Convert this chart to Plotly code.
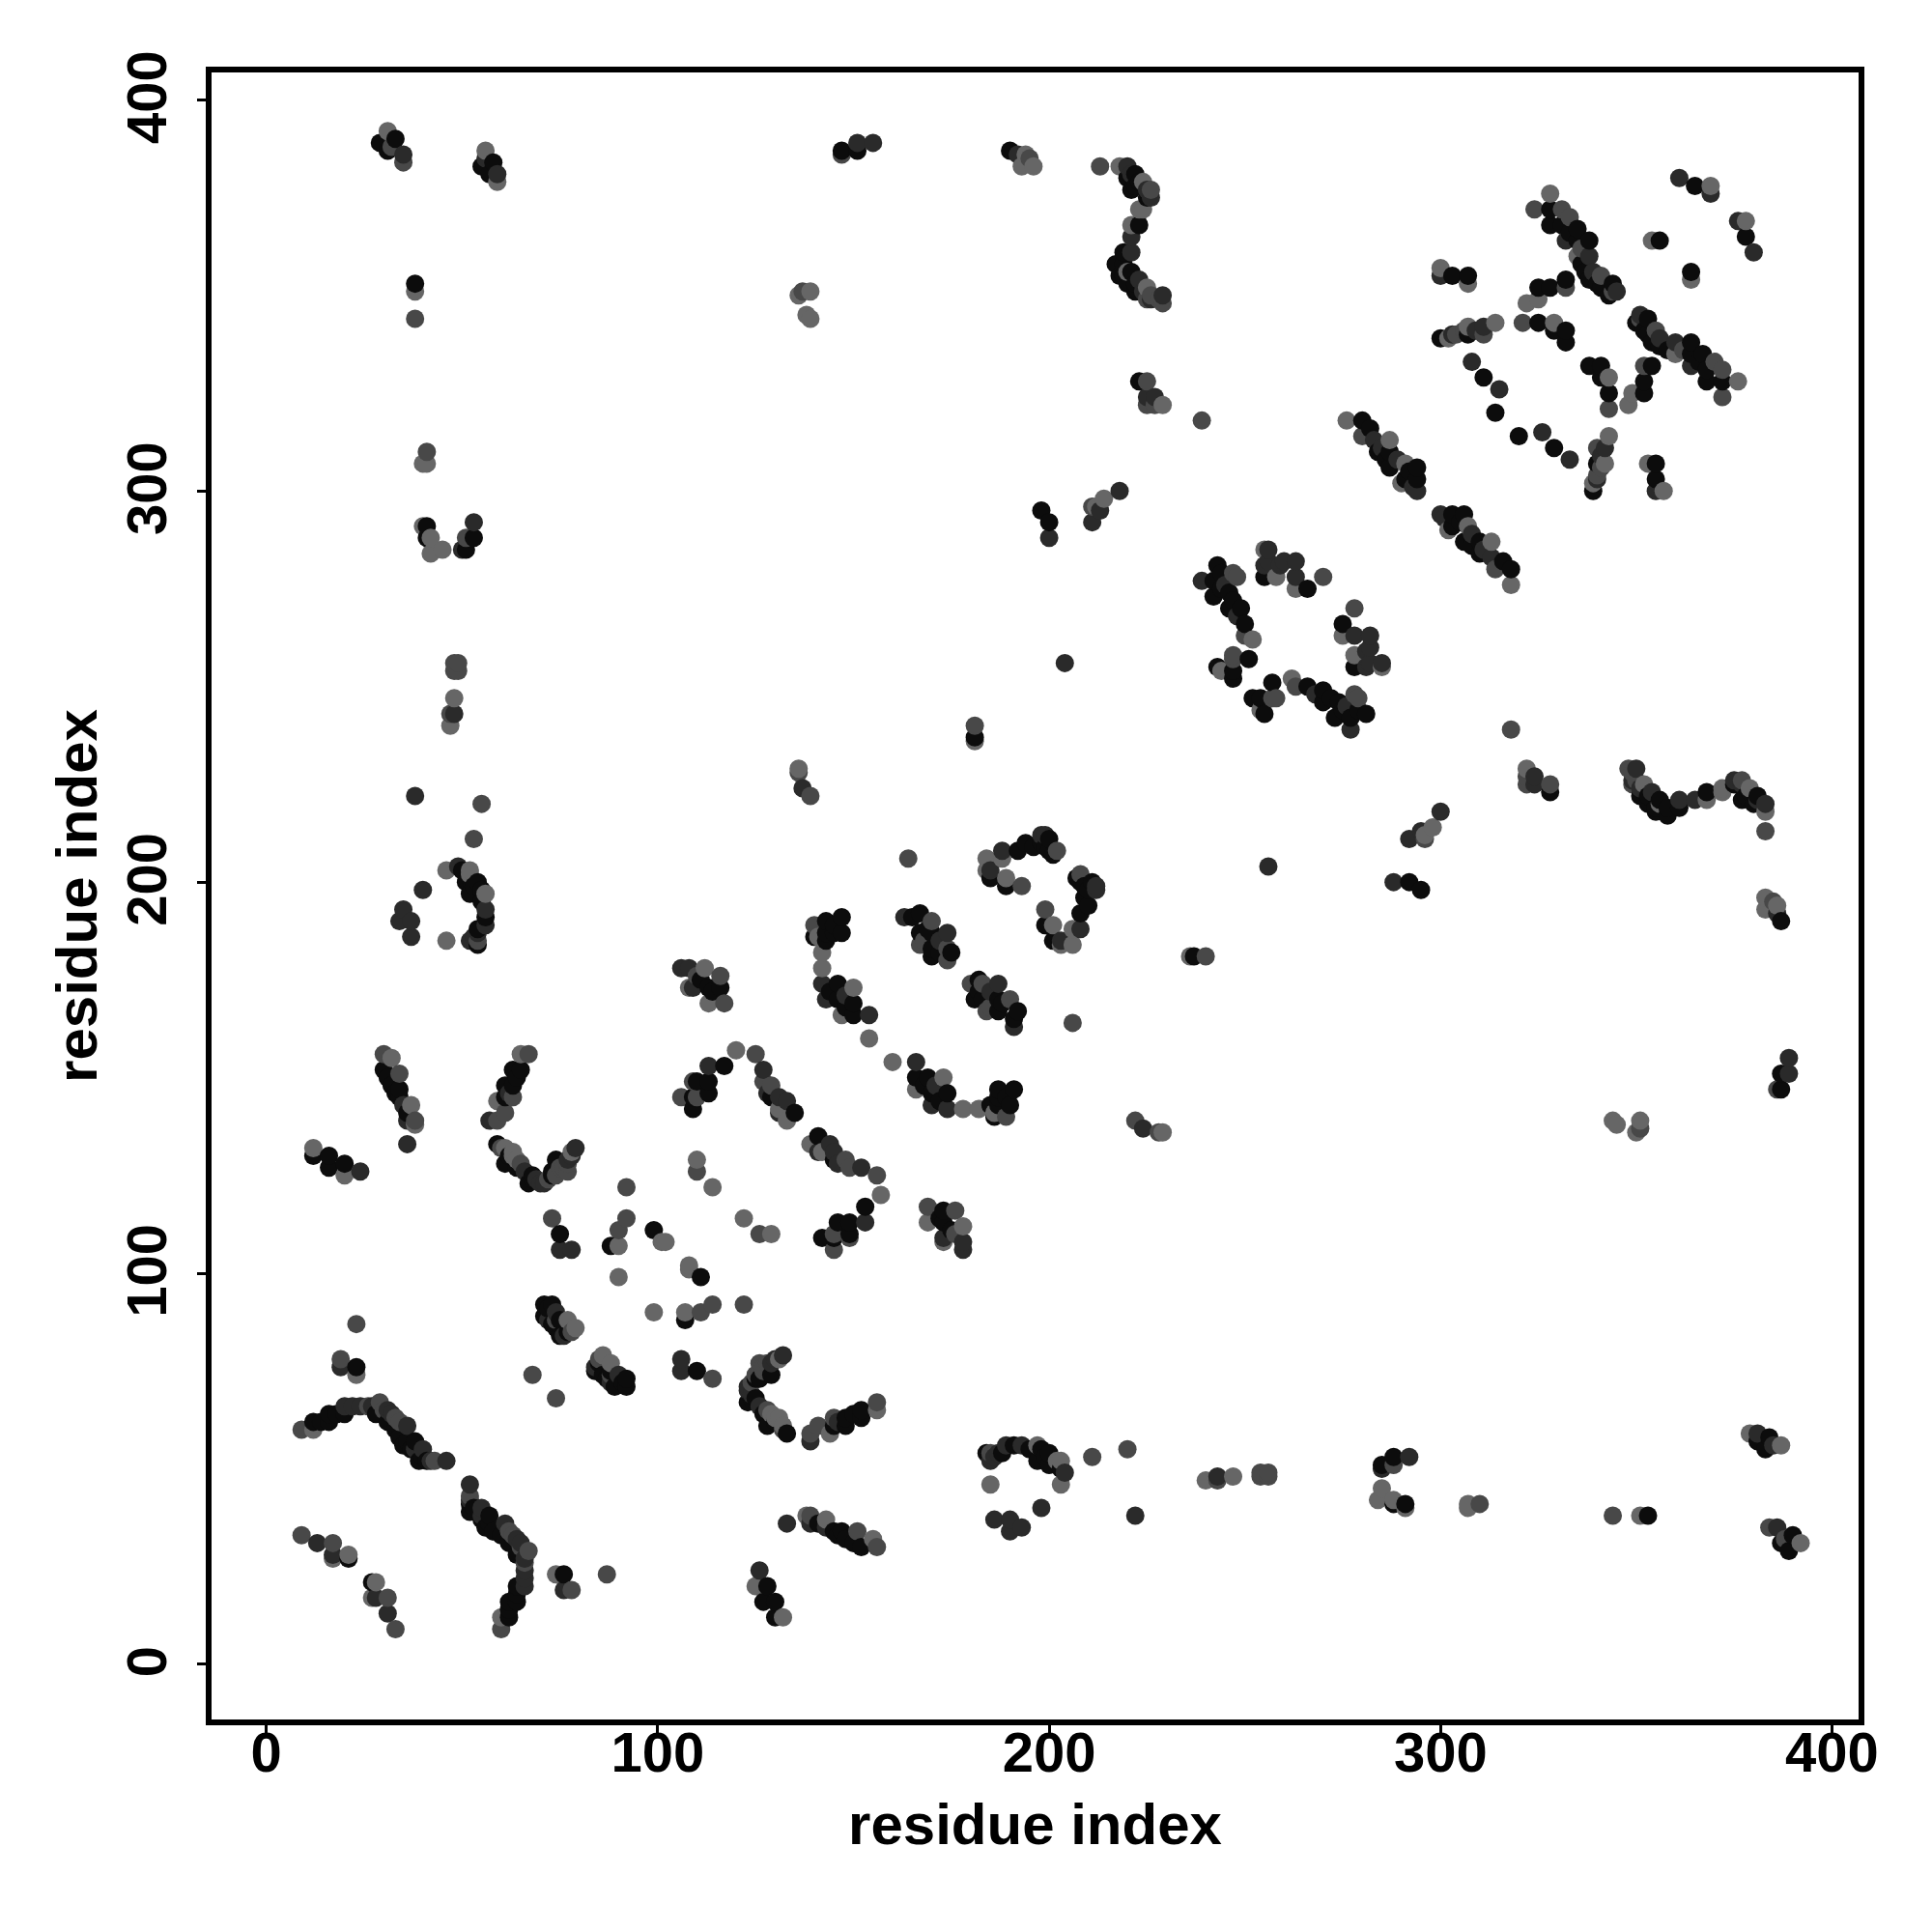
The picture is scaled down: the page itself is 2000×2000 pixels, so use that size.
import plotly.graph_objects as go

light_pairs = [(31,392),(56,387),(59,379),(38,351),(40,307),(41,307),(40,291),(42,288),(42,284),(45,285),
(48,247),(47,240),(46,203),(52,203),(52,202),(56,197),(46,185),(32,155),(37,143),(38,138),(65,156),(59,144),
(61,132),(63,130),(12,132),(20,125),(110,129),(114,122),(90,107),(90,99),(101,108),(102,108),(77,88),(79,86),
(12,60),(23,74),(17,27),(21,28),(112,178),(108,173),(113,169),(120,157),(131,142),(133,139),(141,186),(142,182),
(142,178),(150,173),(147,166),(154,160),(184,206),(188,206),(184,203),(189,201),(136,229),(181,236),
(252,262),(244,254),(258,278),(263,275),(255,285),(276,318),(287,313),(291,307),(290,302),
(300,357),(307,353),(328,376),(335,360),(322,348),(325,349),(329,343),(302,339),(307,342),(314,343),(354,364),(369,378),
(193,383),(196,383),(194,386),(218,383),(224,379),(224,372),(223,372),(221,368),(220,356),(225,352),
(139,351),(136,350),(138,345),(139,344),(229,322),(214,298),(212,296),(78,131),(63,131),(64,129)]

mid_pairs = [(35,384),(32,388),(38,344),(41,310),(51,288),(48,256),(49,256),(48,254),(49,254),(47,243),(55,220),(53,211),
(54,185),(30,156),(34,151),(38,139),(67,156),(63,145),(61,141),(59,139),(65,128),(74,125),(77,126),(77,128),(92,122),
(73,114),(92,114),(90,111),(110,126),(68,74),(26,66),(29,67),(33,63),(43,52),(9,60),(9,33),(17,31),(23,87),(19,78),
(116,176),(117,169),(106,145),(109,149),(110,145),(125,156),(127,149),(129,148),(140,189),(170,190),(167,184),(174,183),
(174,180),(202,208),(193,199),(164,206),(136,228),(139,222),(181,240),(247,257),(247,279),(250,263),(247,258),(248,278),
(270,278),(280,314),(324,372),(331,372),(341,355),(344,351),(332,352),(321,343),(304,340),(311,340),(147,386),(195,385),
(213,383),(226,377),(137,351),(225,328),(225,322),(227,322),(239,318),(211,296),(226,350),(225,349),(229,348),
(76,127),(75,127),(72,124),(60,132),(78,85),(74,88),(34,62),(30,65),(333,370),(336,362),(306,341),(228,349),(168,185),(110,176)]

dark_pairs = [(35,386),(59,381),(56,385),(53,292),(50,285),(48,243),(38,222),(49,204),(56,193),(56,189),(54,187),(52,185),
(40,198),(35,193),(34,190),(37,190),(37,186),(36,139),(36,133),(57,139),(71,123),(77,129),(79,132),(24,126),(20,66),(24,66),
(31,65),(36,61),(40,55),(46,52),(13,31),(17,28),(19,76),(75,106),(78,106),(74,90),(72,88),(76,84),
(108,178),(106,178),(109,173),(113,153),(131,145),(133,144),(127,152),(131,141),(154,166),(142,174),(143,170),(163,191),
(174,187),(188,208),(198,212),(185,203),(204,256),(137,224),(239,277),(256,285),(255,281),(259,281),(263,282),(263,278),
(256,282),(260,282),(283,313),(294,300),(300,355),(332,364),(338,360),(339,356),(345,351),(311,342),(308,333),(315,326),
(361,380),(369,376),(151,389),(155,389),(192,386),(220,383),(226,375),(221,365),(221,361),(223,354),(229,350),(225,324),
(227,324),(218,300),(213,295),(211,292),(200,288),
(66,126),(69,124),(70,123),(78,130),(22,66),(27,66),(32,64),(38,55),(42,52),(285,311),(289,308),(293,301),(303,340),(309,341),
(224,351),(226,349),(221,381),(225,377),(245,276),(248,268),(172,185),(148,171),(199,212),(53,186),(35,143),(62,146),(128,146)]

black_pairs = [(29,389),(33,390),(31,387),(58,384),(55,383),(57,381),(38,353),(41,291),(41,288),(53,288),(51,285),(50,203),
(51,200),(54,200),(52,197),(55,198),(56,191),(54,188),(54,184),(30,152),(32,148),(34,147),(34,145),(36,141),(65,152),(63,152),
(61,148),(63,148),(61,145),(59,133),(61,128),(67,123),(68,125),(73,126),(74,129),(12,130),(16,130),(16,127),(20,128),(23,76),
(75,110),(88,107),(99,111),(71,92),(73,92),(71,89),(73,87),(75,84),(77,85),(12,62),(16,62),(16,64),(20,64),(28,64),(31,62),
(33,60),(35,56),(38,57),(37,55),(39,52),(41,52),(21,27),(113,173),(116,173),(109,142),(109,145),(110,149),(113,149),(113,146),
(117,153),(129,145),(135,141),(143,190),(147,191),(143,187),(140,186),(147,187),(143,185),(146,174),(146,170),(150,169),(150,166),
(167,192),(167,187),(170,187),(170,183),(175,182),(170,181),(192,208),(194,210),(200,211),(198,210),(200,208),(201,207),(185,201),
(189,199),(181,237),(243,281),(242,277),(242,273),(246,274),(246,270),(249,270),(250,266),(251,257),(247,254),(243,255),(247,252),
(255,278),(266,275),(280,318),(284,310),(287,310),(287,306),(294,306),(291,303),(294,303),(303,355),(307,355),(328,372),(328,368),
(331,368),(335,367),(335,364),(338,364),(337,356),(338,354),(341,352),(344,353),(325,352),(328,352),(332,354),(325,343),(329,341),
(332,341),(332,338),(300,339),(307,340),(311,329),(314,320),(365,378),(356,364),(147,387),(151,387),(190,387),(220,380),(222,381),
(221,377),(225,375),(223,368),(219,361),(217,358),(219,358),(218,355),(221,356),(220,353),(222,351),(223,328),(198,295),(200,292),
(62,130),(64,127),(68,124),(73,125),(72,91),(75,88),(74,86),(14,62),(18,64),(34,58),(36,57),(40,53),(282,316),(286,308),(292,305),
(333,366),(336,358),(340,353),(343,350),(223,379),(222,378),(219,355),(222,353),(244,279),(244,275),(247,272),(165,191),(169,188),
(172,182),(144,172),(148,168),(145,189),(145,187),(196,209),(199,209),(53,199),(55,195),(31,150),(33,146),(64,150),(111,175),(114,172)]

tick_values = [0, 100, 200, 300, 400]
axis_title = "residue index"

greys = [(light_pairs, "#666666"), (mid_pairs, "#484848"), (dark_pairs, "#2a2a2a"), (black_pairs, "#0c0c0c")]

# the map is symmetric: each pair is drawn at (i, j) and (j, i), in residue order
points = []
for pairs, colour in greys:
    for i, j in pairs:
        points.append((i, j, colour))
        points.append((j, i, colour))
points.sort(key=lambda p: (p[0], p[1]))

fig = go.Figure(go.Scatter(
    x=[p[0] for p in points],
    y=[p[1] for p in points],
    mode="markers",
    marker=dict(size=19, color=[p[2] for p in points], line=dict(width=0)),
    showlegend=False,
))

font = "Liberation Sans"
title_font = dict(family=font, size=60, color="black", weight="bold")
axis_common = dict(
    tickvals=tick_values,
    showgrid=False, zeroline=False,
    showline=True, mirror=True, linecolor="black", linewidth=6,
    ticks="outside", ticklen=9, tickwidth=3, tickcolor="black",
    tickfont=dict(family=font, size=58, color="black", weight="bold"),
)
fig.update_layout(
    width=2000, height=2000,
    paper_bgcolor="white", plot_bgcolor="white",
    margin=dict(l=211, r=84, t=67, b=228, autoexpand=False),
    xaxis=dict(range=[-14.0, 406.8], tickangle=0, ticklabelstandoff=-31,
               title=dict(text=axis_title, standoff=24, font=title_font),
               **axis_common),
    yaxis=dict(range=[-14.1, 407.0], tickangle=-90, ticklabelstandoff=9, ticklabelshift=6,
               title=dict(text=axis_title, standoff=1, font=title_font),
               **axis_common),
)
fig.write_html("out.html")
